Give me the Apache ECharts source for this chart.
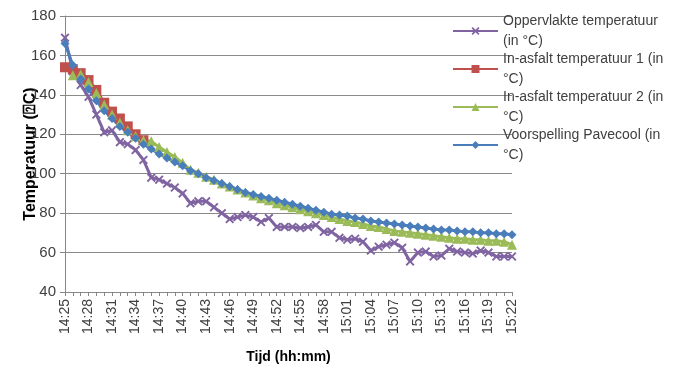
<!DOCTYPE html>
<html>
<head>
<meta charset="utf-8">
<script src="https://cdn.jsdelivr.net/npm/echarts@6/dist/echarts.min.js"></script>
<style>html,body{margin:0;padding:0;background:#fff}#c{width:680px;height:369px}</style>
</head>
<body>
<div id="c"></div>
<script>
var categories = (function(){var a=[];for(var m=25;m<=82;m++){var h=14+Math.floor(m/60),mm=m%60;a.push(h+':'+(mm<10?'0':'')+mm);}return a;})();
var seriesNames = ['Oppervlakte temperatuur\n(in °C)','In-asfalt temperatuur 1 (in\n°C)','In-asfalt temperatuur 2 (in\n°C)','Voorspelling Pavecool (in\n°C)'];
var oppervlakte = [169,152,145,139,130,121,122,116,115,112,107,98,97,95,93,90,85,86,86,83,80,77,78,79,78,75.5,77.5,73,73,73,72.5,73,74,70.5,70.5,67.5,66.5,67,65.5,61,63,64,65,62.5,55.5,60,60.5,58,58.5,62,60.5,60,59.5,61,60,58,58,58];
var asfalt1 = [154,153,151,147.5,142.5,136,131.5,128,124,120,117];
var asfalt2 = [null,150,150.5,146.5,141,135,130,126,122,119,117,116.5,113.5,111,108.5,105.5,102,100.5,98.5,97,95,93.5,92,90.5,89,87.5,86.5,85,84,83,82,81,80,79,78,77,76,75.5,74.5,73.5,73,72,71,70.5,70,69.5,69,68.5,68,67.5,67,67,66.5,66.5,66,66,65.5,64];
var pavecool = [166,155,148,143,137,132,128,124,121,118,115,112.5,110,108,106,104,101.5,100,98,96.5,95,93.5,92,90.5,89.5,88.5,87.5,86.5,85.5,84.5,83.5,82.5,81.5,80.5,79.5,79,78.5,77.5,77,76,75.5,75,74.5,74,73.5,73,72.5,72,71.5,71.5,71,70.5,70.5,70,70,69.5,69.5,69];
var yTicks = {min:40,max:180,interval:20};

var font = 'Liberation Sans, Arial, sans-serif';
var xPath = 'path://M0,1.5L1.5,0L5,3.5L8.5,0L10,1.5L6.5,5L10,8.5L8.5,10L5,6.5L1.5,10L0,8.5L3.5,5Z';
function mk(name,data,color,symbol,size){
  return {name:name,type:'line',data:data,symbol:symbol,symbolSize:size,showSymbol:true,showAllSymbol:true,
    lineStyle:{color:color,width:3},itemStyle:{color:color},connectNulls:false,animation:false};
}
var chart = echarts.init(document.getElementById('c'));
chart.setOption({
  animation:false,
  color:['#8064A2','#C0504D','#9BBB59','#4A7EBB'],
  grid:{left:65,right:168,top:16,bottom:77,outerBoundsMode:'none',containLabel:false},
  legend:{orient:'vertical',left:447,top:-4,itemWidth:45,itemHeight:10,itemGap:-22,
    textStyle:{fontFamily:font,fontSize:14,color:'#404040',lineHeight:20,padding:[20,0,0,0]},
    data:seriesNames},
  xAxis:{type:'category',data:categories,boundaryGap:false,
    axisLine:{lineStyle:{color:'#868686'}},
    axisTick:{interval:0,length:4,lineStyle:{color:'#868686'}},
    axisLabel:{interval:2,rotate:90,fontFamily:font,fontSize:14,color:'#404040',margin:7},
    name:'Tijd (hh:mm)',nameLocation:'middle',nameGap:58,nameMoveOverlap:false,
    nameTextStyle:{fontFamily:font,fontSize:14,fontWeight:'bold',color:'#000'}},
  yAxis:{type:'value',min:yTicks.min,max:yTicks.max,interval:yTicks.interval,
    axisLine:{show:true,lineStyle:{color:'#868686'}},
    axisTick:{show:true,length:5,lineStyle:{color:'#868686'}},
    splitLine:{lineStyle:{color:'#8a8a8a',width:1}},
    axisLabel:{fontFamily:font,fontSize:15,color:'#404040',margin:9},
    name:'Temperatuur (\u2370C)',nameLocation:'middle',nameGap:26,nameMoveOverlap:false,
    nameTextStyle:{fontFamily:font,fontSize:16,fontWeight:'bold',color:'#000'}},
  series:[
    mk(seriesNames[0],oppervlakte,'#8064A2',xPath,9),
    mk(seriesNames[1],asfalt1,'#C0504D','rect',10),
    mk(seriesNames[2],asfalt2,'#9BBB59','triangle',10),
    mk(seriesNames[3],pavecool,'#4A7EBB','diamond',9)
  ]
});
</script>
</body>
</html>
